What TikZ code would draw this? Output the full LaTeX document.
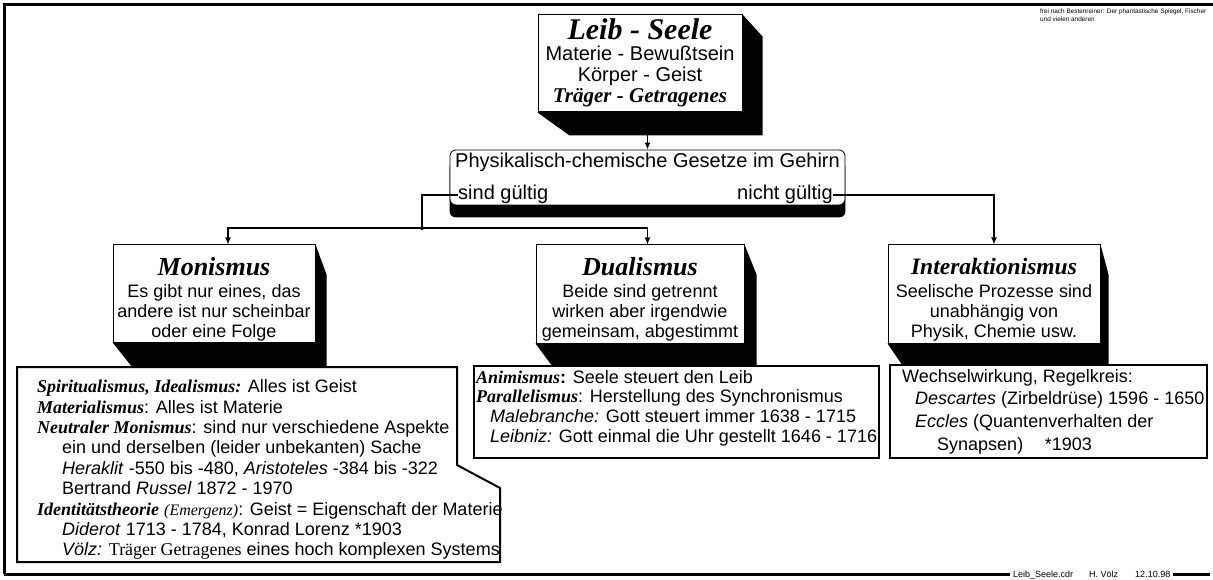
\documentclass[tikz,border=0pt]{standalone}
\usepackage{fontspec}
\setmainfont{Liberation Sans}
\newfontfamily\timesfont{Liberation Serif}
\usetikzlibrary{arrows.meta,backgrounds}

\newcommand\boxtitle[2][26]{{\timesfont\bfseries\itshape\fontsize{#1}{#1}\selectfont #2}}
\newcommand\biterm[1]{{\timesfont\bfseries\itshape #1}}

\tikzset{
	box/.style={draw, fill=white, line width=1pt, inner sep=0pt},
	boxtext/.style={inner sep=0pt, align=center, anchor=north, font=\fontsize{18}{20}\selectfont},
	dettext/.style={inner sep=0pt, align=left, anchor=north west, font=\fontsize{18}{20.4}\selectfont},
	detbox/.style={draw, fill=white, line width=2pt, inner sep=0pt},
	boxshadow/.style={fill=black},
	arr/.style={line width=1.5pt, -{Latex[length=7pt,width=6pt]}},
	outerframe/.style={line width=3pt}
}

\begin{document}
\begin{tikzpicture}[x=1pt,y=-1pt]
			\useasboundingbox (0,0) rectangle (1213,580);
			
			% frame
			\draw[outerframe] (4,574) -- (4,5) -- (1213,5);
			\draw[outerframe] (4,574) -- (1210,574);
			\node[anchor=base west, fill=white, inner xsep=3pt, inner ysep=1.5pt, font=\fontsize{9}{9}\selectfont] (footer) at (1010,577.5) {Leib\_Seele.cdr\hspace{16pt}H. Völz\hspace{17pt}12.10.98};
			\node[anchor=north west, inner sep=0pt, align=left, font=\fontsize{6.4}{8}\selectfont] (credit) at (1040,9) {frei nach Bestenreiner: Der phantastische Spiegel, Fischer\\und vielen anderen};
			
			% top box
			\node[box, minimum width=204pt, minimum height=97pt] (leib) at (640,63.5) {};
			\node[boxtext, font=\fontsize{20}{21}\selectfont] (leibtext) at ([yshift=-3.5pt]leib.north) {\boxtitle[30]{Leib - Seele}\\Materie - Bewußtsein\\Körper - Geist\\{\timesfont\bfseries\itshape\fontsize{21}{21}\selectfont Träger - Getragenes}};
			
			% question box
			\node[box, line width=0.8pt, rounded corners=6pt, minimum width=395pt, minimum height=55pt] (phys) at (647.5,177.5) {};
			\node[anchor=base, inner sep=0pt, font=\fontsize{20}{20}\selectfont] (physhead) at (647.5,168) {Physikalisch-chemische Gesetze im Gehirn};
			\node[anchor=base west, inner sep=0pt, font=\fontsize{20}{20}\selectfont] (sind) at (458,200) {sind gültig};
			\node[anchor=base east, inner sep=0pt, font=\fontsize{20}{20}\selectfont] (nicht) at (833,200) {nicht gültig};
			
			% the three answers
			\node[box, minimum width=202pt, minimum height=97pt] (mon) at (214,293.5) {};
			\node[boxtext] (montext) at ([yshift=-12.5pt]mon.north) {\boxtitle{Monismus}\\[2pt]Es gibt nur eines, das\\andere ist nur scheinbar\\oder eine Folge};
			\node[box, minimum width=208pt, minimum height=98pt] (dual) at (640,294) {};
			\node[boxtext] (dualtext) at ([yshift=-12.5pt]dual.north) {\boxtitle{Dualismus}\\[2pt]Beide sind getrennt\\wirken aber irgendwie\\gemeinsam, abgestimmt};
			\node[box, minimum width=212pt, minimum height=98pt] (inter) at (994,294) {};
			\node[boxtext] (intertext) at ([yshift=-13pt]inter.north) {\boxtitle[23.5]{Interaktionismus}\\[3pt]Seelische Prozesse sind\\unabhängig von\\Physik, Chemie usw.};
			
			% shadows
			\begin{scope}[on background layer]
			\fill[boxshadow] (leib.north east) -- ++(20,22) |- ([shift={(32,23)}]leib.south west) -- (leib.south west) -- cycle;
			\fill[boxshadow, rounded corners=6pt] ([yshift=-12pt]phys.north west) rectangle ([yshift=-12pt]phys.south east);
			\fill[boxshadow] (mon.north east) -- ++(11,30) |- ([shift={(20,25)}]mon.south west) -- (mon.south west) -- cycle;
			\fill[boxshadow] (dual.north east) -- ++(12,30) |- ([shift={(17,23)}]dual.south west) -- (dual.south west) -- cycle;
			\fill[boxshadow] (inter.north east) -- ++(8,30) |- ([shift={(15,22)}]inter.south west) -- (inter.south west) -- cycle;
			\end{scope}
			
			% connectors
			\coordinate (leibout) at ([yshift=-23pt]leib.south);
			\coordinate (split) at (422,228);
			\coordinate (monin) at (228,228);
			\draw[arr] (leibout -| phys.north) -- (phys.north);
			\draw[line width=1.5pt] (sind.west) -| (split);
			\draw[arr] (split) -- (monin) -- (monin |- mon.north);
			\draw[arr] (split) -| (phys.south |- dual.north);
			\fill (split) circle (2pt);
			\draw[arr] (nicht.east) -| (inter.north);
			
			% details
			\draw[detbox] (17,367) -- (457,367) -- (457,465) -- (500,488) -- (500,562) -- (17,562) -- cycle;
			\node[dettext] (mondet) at (37,379.5) {\biterm{Spiritualismus, Idealismus:} Alles ist Geist\\
				\biterm{Materialismus}: Alles ist Materie\\
				\biterm{Neutraler Monismus}: sind nur verschiedene Aspekte\\
				\hspace*{25pt}ein und derselben (leider unbekanten) Sache\\
				\hspace*{25pt}\textit{Heraklit} -550 bis -480, \textit{Aristoteles} -384 bis -322\\
				\hspace*{25pt}Bertrand \textit{Russel} 1872 - 1970\\
				\biterm{Identitätstheorie} {\timesfont\itshape\fontsize{16}{16}\selectfont (Emergenz)}: Geist = Eigenschaft der Materie\\
				\hspace*{25pt}\textit{Diderot} 1713 - 1784, Konrad Lorenz *1903\\
				\hspace*{25pt}\textit{Völz:} {\timesfont Träger Getragenes} eines hoch komplexen Systems};
			\node[detbox, minimum width=405pt, minimum height=92pt] (dualdet) at (676.5,412) {};
			\node[dettext, font=\fontsize{18}{19.7}\selectfont] (dualdettext) at (476,370) {\biterm{Animismus}\textbf{:} Seele steuert den Leib\\
				\biterm{Parallelismus}: Herstellung des Synchronismus\\
				\hspace*{14pt}\textit{Malebranche:} Gott steuert immer 1638 - 1715\\
				\hspace*{14pt}\textit{Leibniz:} Gott einmal die Uhr gestellt 1646 - 1716};
			\node[detbox, minimum width=317pt, minimum height=93pt] (interdet) at (1048.5,411.5) {};
			\node[dettext, font=\fontsize{18}{22.7}\selectfont] (interdettext) at (902,369) {Wechselwirkung, Regelkreis:\\
				\hspace*{13pt}\textit{Descartes} (Zirbeldrüse) 1596 - 1650\\
				\hspace*{13pt}\textit{Eccles} (Quantenverhalten der\\
				\hspace*{35pt}Synapsen)\hspace{1.2em}*1903};
\end{tikzpicture}
\end{document}
